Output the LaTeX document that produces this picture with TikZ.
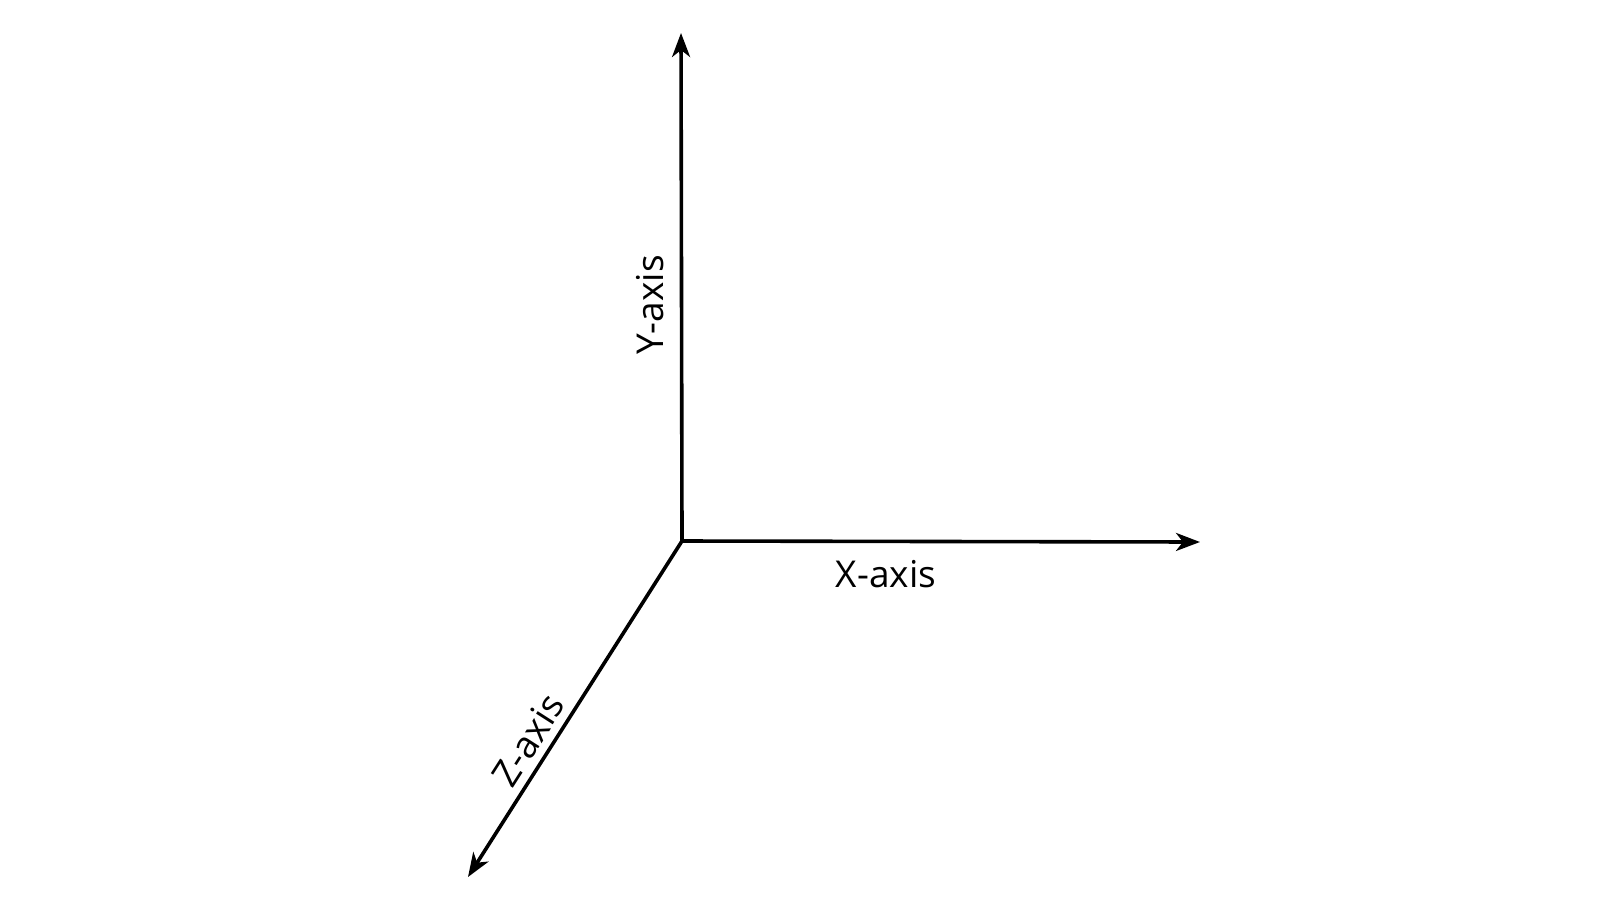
\documentclass[tikz,border=0pt]{standalone}
\usepackage{fontspec}
\setmainfont{Open Sans}
\usetikzlibrary{arrows.meta}
\begin{document}
\begin{tikzpicture}[x=0.5pt,y=-0.5pt,
  axis/.style={line width=1.8pt,-{Stealth[length=12pt,width=9pt,inset=3.5pt]}},
  lbl/.style={inner sep=0pt,font=\fontsize{18.5}{22}\selectfont}]
\useasboundingbox (0,0) rectangle (1600,900);
\coordinate (O) at (682,541);
\coordinate (Xe) at (1200,542);
\coordinate (Ye) at (681,33);
\coordinate (Ze) at (468,877);
\draw[axis] (O) -- (Xe);
\draw[axis] (O) -- (Ye);
\draw[axis] (O) -- (Ze);
\node[lbl] (xl) at (886,574) {X-axis};
\node[lbl,rotate=90] (yl) at (650,305) {Y-axis};
\node[lbl,rotate=57.4] (zl) at (528,740) {Z-axis};
\end{tikzpicture}
\end{document}
